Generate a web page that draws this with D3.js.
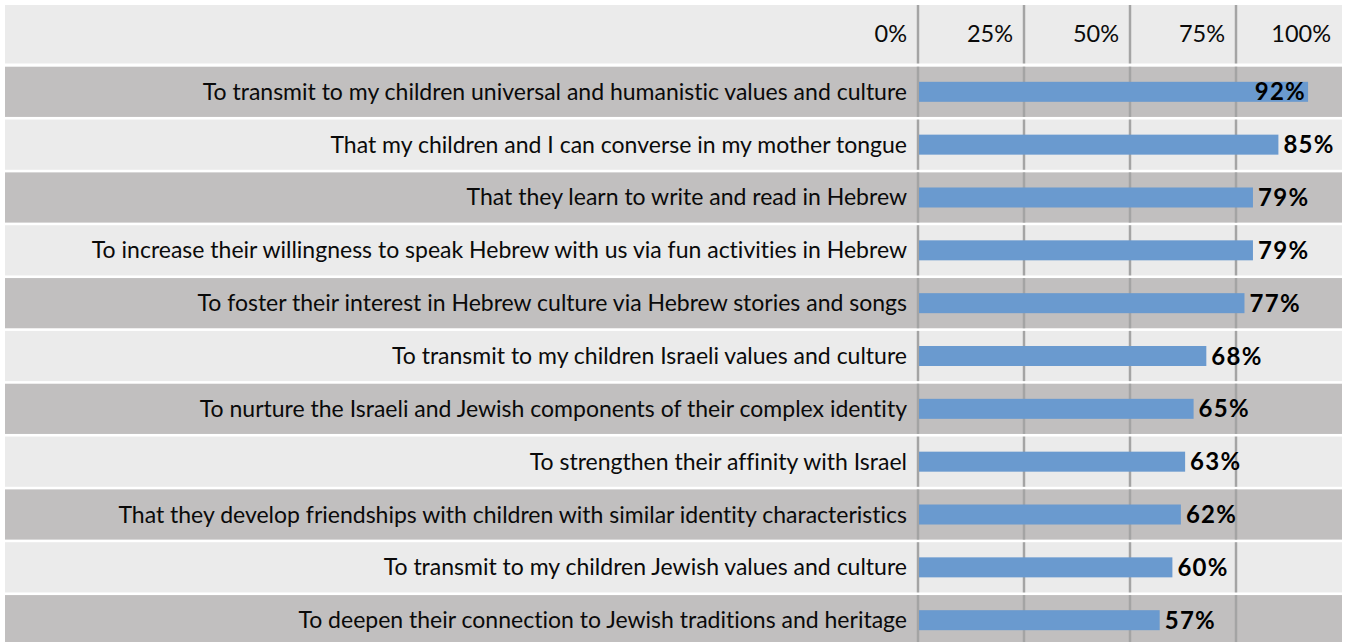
<!DOCTYPE html>
<html>
<head>
<meta charset="utf-8">
<script src="https://cdn.jsdelivr.net/npm/d3@7"></script>
<style>
  html, body { margin: 0; padding: 0; background: #ffffff; }
  svg { display: block; }
  text { font-family: Lato, "Open Sans", sans-serif; font-variant-ligatures: none; }
</style>
</head>
<body>
<svg id="chart" width="1351" height="642"></svg>
<script>
// Reasons parents give for Hebrew language programs (share of respondents)
const categories = [
  "To transmit to my children universal and humanistic values and culture",
  "That my children and I can converse in my mother tongue",
  "That they learn to write and read in Hebrew",
  "To increase their willingness to speak Hebrew with us via fun activities in Hebrew",
  "To foster their interest in Hebrew culture via Hebrew stories and songs",
  "To transmit to my children Israeli values and culture",
  "To nurture the Israeli and Jewish components of their complex identity",
  "To strengthen their affinity with Israel",
  "That they develop friendships with children with similar identity characteristics",
  "To transmit to my children Jewish values and culture",
  "To deepen their connection to Jewish traditions and heritage"
];
const values = [0.92, 0.85, 0.79, 0.79, 0.77, 0.68, 0.65, 0.63, 0.62, 0.60, 0.57];
const tickValues = [0, 0.25, 0.5, 0.75, 1];
const tickLabels = ["0%", "25%", "50%", "75%", "100%"];

const svg = d3.select("#chart");

const left = 5, right = 1342;
const headerTop = 5, headerBottom = 63.5;
const rowsTop = 66.7, rowStep = 52.6, rowGap = 2.6;

const x = d3.scaleLinear().domain([0, 1]).range([918, right]);
const y = d3.scaleBand()
  .domain(categories)
  .range([rowsTop, rowsTop + rowStep * categories.length])
  .paddingInner(rowGap / rowStep)
  .paddingOuter(0)
  .align(0);

const fmt = d3.format(".0%");

// Header band
svg.append("rect")
  .attr("x", left).attr("y", headerTop)
  .attr("width", right - left).attr("height", headerBottom - headerTop)
  .attr("fill", "#ebebeb");

// Row bands, alternating shades
svg.append("g")
  .selectAll("rect")
  .data(categories)
  .join("rect")
  .attr("x", left)
  .attr("y", d => y(d))
  .attr("width", right - left)
  .attr("height", y.bandwidth())
  .attr("fill", (d, i) => i % 2 === 0 ? "#c1bfbf" : "#ebebeb");

// Gridlines, drawn within the header and each row band
const segments = [[headerTop, headerBottom]].concat(categories.map(c => [y(c), y(c) + y.bandwidth()]));
const grid = svg.append("g");
tickValues.filter(v => v < 1).forEach(v => {
  grid.selectAll(null)
    .data(segments)
    .join("line")
    .attr("x1", x(v)).attr("x2", x(v))
    .attr("y1", d => d[0]).attr("y2", d => d[1])
    .attr("stroke", "#a4a4a4")
    .attr("stroke-width", 2.5);
});

// Axis labels in the header, right-aligned to the left of each gridline
svg.append("g")
  .selectAll("text")
  .data(tickValues)
  .join("text")
  .attr("x", d => x(d) - 11)
  .attr("y", (headerTop + headerBottom) / 2 + 8)
  .attr("text-anchor", "end")
  .attr("font-size", 23.5)
  .attr("fill", "#0a0a0a")
  .text((d, i) => tickLabels[i]);

// Category labels
svg.append("g")
  .selectAll("text")
  .data(categories)
  .join("text")
  .attr("x", 907)
  .attr("y", d => y(d) + y.bandwidth() / 2 + 8)
  .attr("text-anchor", "end")
  .attr("font-size", 23)
  .attr("fill", "#0a0a0a")
  .text(d => d);

// Bars
const barH = 20;
svg.append("g")
  .selectAll("rect")
  .data(values)
  .join("rect")
  .attr("x", x(0) + 1)
  .attr("y", (d, i) => y(categories[i]) + y.bandwidth() / 2 - barH / 2)
  .attr("width", d => x(d) - x(0) - 1)
  .attr("height", barH)
  .attr("fill", "#6a9acf");

// Value labels; pulled inside the bar when they would run past the edge
const labels = svg.append("g")
  .selectAll("text")
  .data(values)
  .join("text")
  .attr("y", (d, i) => y(categories[i]) + y.bandwidth() / 2 + 8.5)
  .attr("font-size", 24)
  .attr("font-weight", "bold")
  .attr("letter-spacing", 1.3)
  .attr("fill", "#000")
  .text(d => fmt(d));

labels.each(function(d) {
  const w = this.getComputedTextLength();
  const end = x(d);
  if (end + 5 + w > 1351) {
    d3.select(this).attr("x", end - 2).attr("text-anchor", "end");
  } else {
    d3.select(this).attr("x", end + 5).attr("text-anchor", "start");
  }
});
</script>
</body>
</html>
